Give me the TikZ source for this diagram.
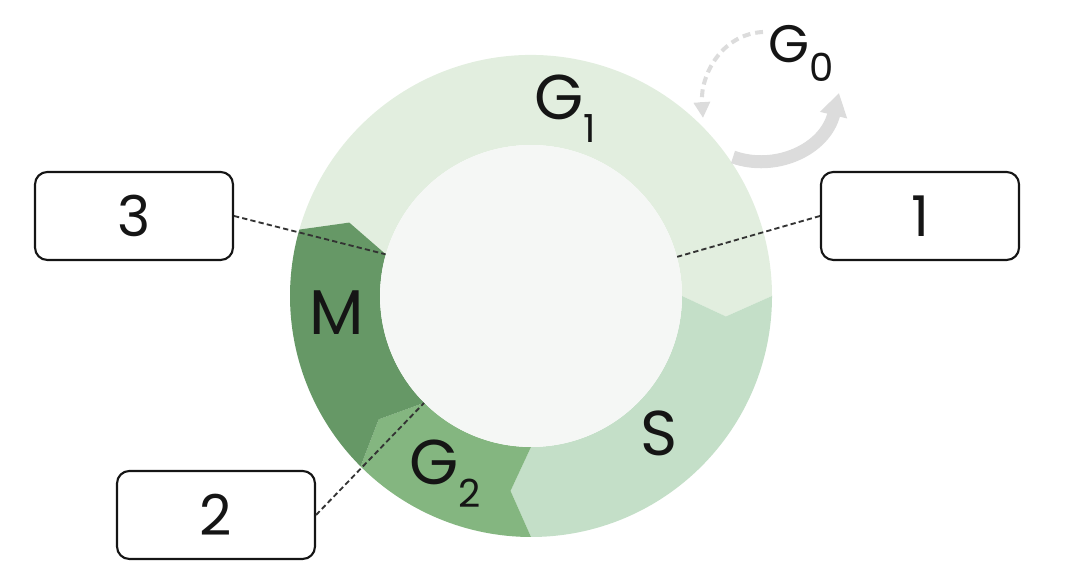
\documentclass[tikz,border=0pt]{standalone}
\usepackage{fontspec}
\setmainfont{Poppins}
\usetikzlibrary{arrows.meta}

\definecolor{gone}{HTML}{E2EEDF}
\definecolor{sphase}{HTML}{C4DFC8}
\definecolor{gtwo}{HTML}{84B680}
\definecolor{mphase}{HTML}{669866}
\definecolor{hubfill}{HTML}{F5F7F5}
\definecolor{ink}{HTML}{151515}
\definecolor{leadgray}{HTML}{333333}
\definecolor{loopgray}{HTML}{DCDCDC}

\newcommand{\phsub}[1]{\raisebox{-0.36em}{\fontsize{22}{22}\selectfont #1}}

\begin{document}
\begin{tikzpicture}[x=0.02cm, y=0.02cm,
      hub/.style={circle, fill=hubfill, inner sep=0pt, minimum size=6.04cm},
      phase/.style={font=\fontsize{36}{40}\selectfont, text=ink, inner sep=0pt},
      tag/.style={draw=ink, line width=1.2pt, rounded corners=7pt, minimum width=3.96cm, minimum height=1.76cm, font=\fontsize{32}{36}\selectfont, text=ink},
      leader/.style={draw=leadgray, line width=1.05pt, dash pattern=on 3pt off 1.8pt},
      looparrow/.style={draw=loopgray, line width=7.4pt, -{Triangle[length=13pt, width=15pt]}},
      backarrow/.style={draw=loopgray, line width=2.3pt, dash pattern=on 4.5pt off 2.8pt, -{Triangle[length=9pt, width=9pt]}}
  ]
    \useasboundingbox (0,0) rectangle (1067,573);

    % ring of the four phases, each ends in a point
    \begin{scope}[shift={(531,277)}]
      \foreach \a/\b/\col in {164/0/gone, 360/270/sphase, 270/225/gtwo, 225/164/mphase}
        \fill[\col] (\a:241) arc[start angle=\a, end angle=\b, radius=241] -- ({\b-6}:196)
          -- (\b:151) arc[start angle=\b, end angle=\a, radius=151] -- ({\a-6}:196) -- cycle;
    \end{scope}
    \node[hub] (core) at (531,277) {};

    \node[phase] (gone) at (565,464) {G\phsub{1}};
    \node[phase] (sphase) at (659,140) {S};
    \node[phase] (gtwo) at (445,99) {G\phsub{2}};
    \node[phase] (mphase) at (337,260) {M};
    \node[phase, font=\fontsize{30}{34}\selectfont] (gzero) at (801,520) {G\phsub{0}};

    % G0 loop
    \coordinate (back1) at (763,541);
    \coordinate (back2) at (703,455);
    \coordinate (loop1) at (733,416);
    \coordinate (loop2) at (839,480);
    \draw[backarrow] (back1) .. controls (722,539) and (700,498) .. (back2);
    \draw[looparrow] (loop1) .. controls (775,401) and (825,423) .. (loop2);

    % boxes
    \node[tag] (three) at (134,357) {3};
    \node[tag] (one) at (920,357) {1};
    \node[tag] (two) at (216,58) {2};
    \draw[leader] (three.east) -- (core.164);
    \draw[leader] (one.west) -- (core.15);
    \draw[leader] (two.east) -- (core.225);
  \end{tikzpicture}
\end{document}
